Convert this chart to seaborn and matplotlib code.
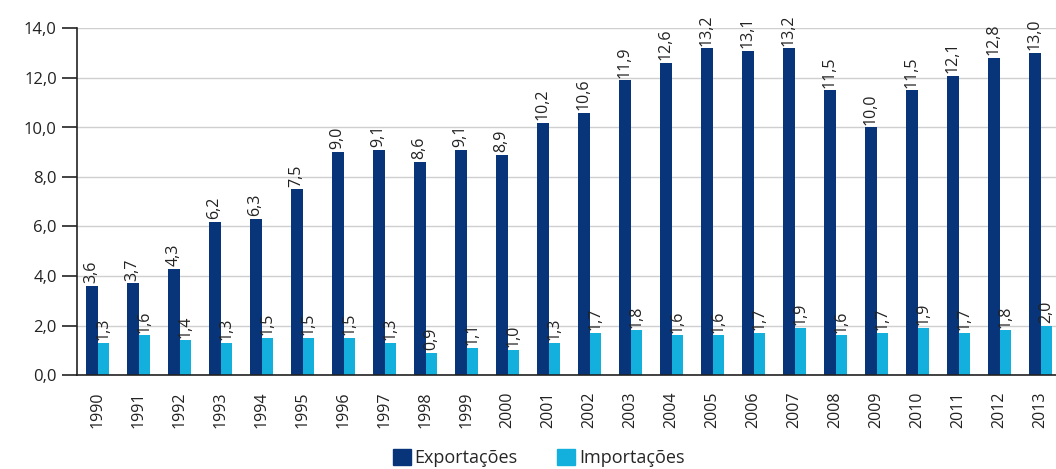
import numpy as np
import pandas as pd
import matplotlib
matplotlib.use("Agg")
import matplotlib.pyplot as plt
import seaborn as sns

# values
anos = [str(a) for a in range(1990, 2014)]
exportacoes = [3.6, 3.7, 4.3, 6.2, 6.3, 7.5, 9.0, 9.1, 8.6, 9.1, 8.9, 10.2,
               10.6, 11.9, 12.6, 13.2, 13.1, 13.2, 11.5, 10.0, 11.5, 12.1, 12.8, 13.0]
importacoes = [1.3, 1.6, 1.4, 1.3, 1.5, 1.5, 1.5, 1.3, 0.9, 1.1, 1.0, 1.3,
               1.7, 1.8, 1.6, 1.6, 1.7, 1.9, 1.6, 1.7, 1.9, 1.7, 1.8, 2.0]
series = ["Exportações", "Importações"]
cores = ["#08357a", "#13afdd"]

df = pd.DataFrame({
    "ano": anos * 2,
    "valor": exportacoes + importacoes,
    "serie": [series[0]] * len(anos) + [series[1]] * len(anos),
})

sns.set_style("white")
plt.rcParams["font.family"] = ["Open Sans", "DejaVu Sans"]

fig = plt.figure(figsize=(10.56, 4.69), dpi=100)
ax = fig.add_axes([77 / 1056, 94 / 469, 984 / 1056, 346.5 / 469])

sns.barplot(data=df, x="ano", y="valor", hue="serie", hue_order=series,
            palette=cores, width=0.58, ax=ax, legend=False, saturation=1,
            linewidth=0)

for cont in ax.containers:
    ax.bar_label(cont, labels=[f"{v:.1f}".replace(".", ",") for v in cont.datavalues],
                 rotation=90, padding=2, fontsize=11.5, color="#222222", clip_on=False)

ax.set_ylim(0, 14)
ax.set_xlim(-0.5, len(anos) - 0.5)
ax.set_yticks(np.arange(0, 15, 2))
ax.set_yticklabels([f"{v:.1f}".replace(".", ",") for v in np.arange(0, 15, 2)],
                   fontsize=12, color="#222222")
ax.yaxis.grid(True, color="#cfcfcf", linewidth=1)
ax.set_axisbelow(True)
ax.set_xlabel("")
ax.set_ylabel("")

ax.set_xticks(range(len(anos)))
ax.set_xticklabels(anos, rotation=90, fontsize=11.5, color="#222222")
ax.set_xticks(np.arange(-0.5, len(anos), 1), minor=True)
ax.tick_params(axis="x", which="major", length=0, pad=12)
ax.tick_params(axis="x", which="minor", length=11, width=1.2, color="#222222", direction="out")
ax.tick_params(axis="y", length=11, width=1.2, color="#222222", direction="out", left=True)

for s in ["top", "right"]:
    ax.spines[s].set_visible(False)
for s in ["left", "bottom"]:
    ax.spines[s].set_color("#222222")
    ax.spines[s].set_linewidth(1.2)

handles = [plt.Rectangle((0, 0), 1, 1, color=c) for c in cores]
fig.legend(handles, series, loc="lower center", bbox_to_anchor=(0.51, -0.03), ncol=2,
           frameon=False, fontsize=13, handlelength=1.0, handleheight=1.0,
           handletextpad=0.2, columnspacing=2.2)

fig.savefig("out.png", dpi=100)
